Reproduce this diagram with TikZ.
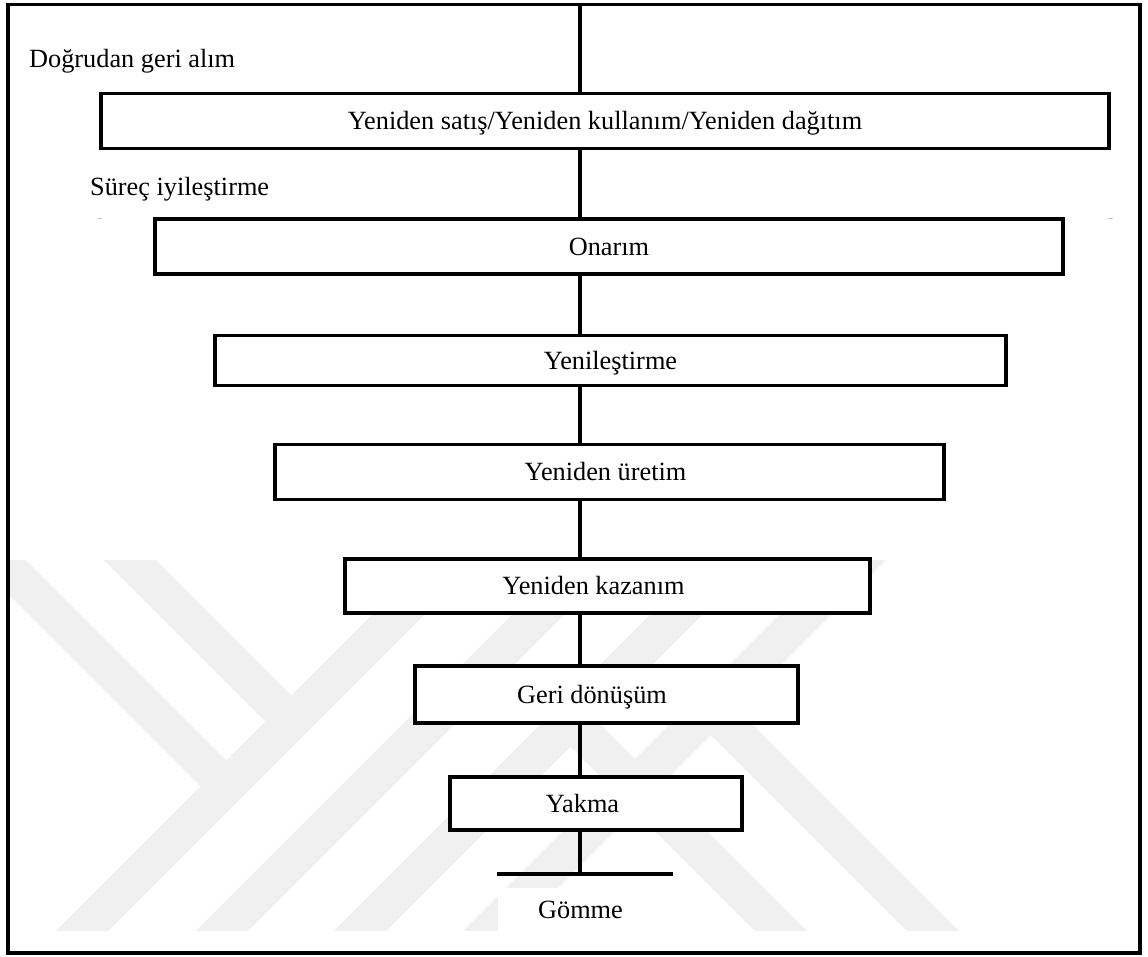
\documentclass[tikz,border=0pt]{standalone}
\usepackage{fontspec}
\setmainfont{Liberation Serif}
\definecolor{wm}{RGB}{240,240,240}
\begin{document}
\begin{tikzpicture}[x=1pt,y=-1pt,
  txtfont/.style={font=\fontsize{26.3}{30}\selectfont},
  stepbox/.style={draw=black, line width=3.5pt, fill=white, rectangle,
    inner sep=0pt, text height=17pt, text depth=0pt, txtfont},
  lbl/.style={inner sep=0pt, anchor=base west, txtfont},
  link/.style={line width=3.5pt},
  band/.style={wm, line width=37pt}]
\useasboundingbox (0,0) rectangle (1148,956);
\fill[white] (0,0) rectangle (1148,956);

% faint background emblem
\begin{scope}
  \clip (9,560) rectangle (1139,930);
  \draw[band] (-20,540) -- (226,786);
  \draw[band] (110,540) -- (291.5,721.5);
  \draw[band] (43,970) -- (473,540);
  \draw[band] (183,970) -- (613,540);
  \draw[band] (321,970) -- (751,540);
  \draw[band] (450,970) -- (880,540);
  \draw[band] (570.5,720.5) -- (800,950);
  \draw[band] (711,709) -- (960,958);
\end{scope}

% outer frame
\draw[line width=3.5pt] (8,4.5) rectangle (1140,953);

% side labels
\node[lbl] (l1) at (29,67) {Doğrudan geri alım};
\node[lbl] (l2) at (90,195) {Süreç iyileştirme};

% small marks
\draw[gray!45, line width=1pt] (97,218) -- (102,218);
\draw[gray!45, line width=1pt] (1108,218) -- (1113,218);

% stages
\coordinate (top) at (580,4.5);
\coordinate (gnd) at (580,874);
\coordinate (gl) at (497,874);
\coordinate (gr) at (673,874);

\node[stepbox, minimum width=1008pt, minimum height=55pt] (b1) at (605,121)
  {Yeniden satış/Yeniden kullanım/Yeniden dağıtım};
\node[stepbox, minimum width=908pt, minimum height=55pt] (b2) at (609,246.5) {Onarım};
\node[stepbox, minimum width=791pt, minimum height=50pt] (b3) at (610.5,360.5) {Yenileştirme};
\node[stepbox, minimum width=669pt, minimum height=55pt] (b4) at (609.5,472) {Yeniden üretim\hspace*{8pt}};
\node[stepbox, minimum width=525pt, minimum height=54pt] (b5) at (607.5,586) {Yeniden kazanım\hspace*{28pt}};
\node[stepbox, minimum width=383pt, minimum height=57pt] (b6) at (606.5,694.5) {Geri dönüşüm\hspace*{29pt}};
\node[stepbox, minimum width=292pt, minimum height=53pt] (b7) at (596,803.5) {Yakma\hspace*{27pt}};

% spine
\draw[link] (top) -- (top |- b1.north);
\draw[link] (top |- b1.south) -- (top |- b2.north);
\draw[link] (top |- b2.south) -- (top |- b3.north);
\draw[link] (top |- b3.south) -- (top |- b4.north);
\draw[link] (top |- b4.south) -- (top |- b5.north);
\draw[link] (top |- b5.south) -- (top |- b6.north);
\draw[link] (top |- b6.south) -- (top |- b7.north);
\draw[link] (top |- b7.south) -- (gnd);
\draw[link] (gl) -- (gr);

% final stage
\node[fill=white, inner sep=0pt, minimum width=170pt, minimum height=45pt,
  text height=17pt, text depth=0pt, txtfont] (g) at (583,910) {Gömme\hspace*{5pt}};
\end{tikzpicture}
\end{document}
